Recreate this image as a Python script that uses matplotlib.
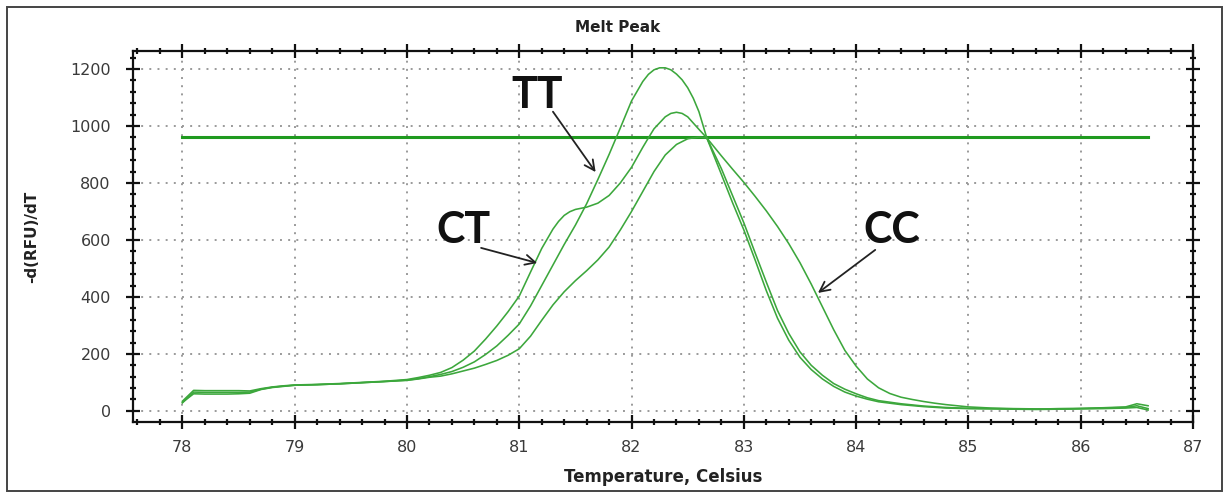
import matplotlib
matplotlib.use("Agg")
import matplotlib.pyplot as plt
from matplotlib.ticker import MultipleLocator
from matplotlib.patches import Rectangle

# Melt-peak derivative curves, -d(RFU)/dT versus temperature (deg C)
temp_tt = [78.0, 78.1, 78.2, 78.3, 78.4, 78.5, 78.6, 78.7, 78.8, 78.9, 79.0, 79.2, 79.4, 79.6,
           79.8, 80.0, 80.1, 80.2, 80.3, 80.4, 80.5, 80.6, 80.7, 80.8, 80.9, 81.0, 81.1, 81.2,
           81.3, 81.4, 81.5, 81.6, 81.7, 81.8, 81.9, 82.0, 82.1, 82.15, 82.2, 82.25, 82.3,
           82.35, 82.4, 82.45, 82.5, 82.55, 82.6, 82.67, 82.8, 82.9, 83.0, 83.1, 83.2, 83.3,
           83.4, 83.5, 83.6, 83.7, 83.8, 83.9, 84.0, 84.1, 84.2, 84.4, 84.6, 84.8, 85.0,
           85.2, 85.4, 85.6, 85.8, 86.0, 86.2, 86.4, 86.5, 86.6]
rfu_tt = [30, 60, 59, 59, 59, 60, 62, 75, 82, 86, 90, 92, 95, 99,
          103, 108, 113, 120, 128, 138, 153, 172, 198, 228, 265, 305, 368, 440,
          512, 584, 652, 727, 812, 900, 993, 1088, 1156, 1181, 1197, 1204, 1204,
          1197, 1182, 1162, 1134, 1097, 1050, 958, 830, 730, 635, 530, 422, 325,
          248, 188, 145, 112, 86, 66, 52, 41, 32, 22, 15, 10, 8,
          7, 6, 5, 6, 8, 10, 12, 18, 8]

temp_ct = [78.0, 78.1, 78.2, 78.3, 78.4, 78.5, 78.6, 78.7, 78.8, 78.9, 79.0, 79.2, 79.4, 79.6,
           79.8, 80.0, 80.1, 80.2, 80.3, 80.4, 80.5, 80.6, 80.7, 80.8, 80.9, 81.0, 81.1, 81.2,
           81.3, 81.35, 81.4, 81.45, 81.5, 81.55, 81.6, 81.7, 81.8, 81.9, 82.0, 82.1, 82.15,
           82.2, 82.3, 82.35, 82.4, 82.45, 82.5, 82.6, 82.67, 82.8, 82.9, 83.0, 83.1, 83.2,
           83.3, 83.4, 83.5, 83.6, 83.7, 83.8, 83.9, 84.0, 84.1, 84.2, 84.4, 84.6, 84.8,
           85.0, 85.2, 85.4, 85.6, 85.8, 86.0, 86.2, 86.4, 86.5, 86.6]
rfu_ct = [34, 72, 71, 71, 71, 71, 70, 78, 84, 88, 91, 93, 96, 100,
          104, 110, 117, 125, 135, 152, 178, 210, 252, 298, 348, 403, 487, 570,
          638, 665, 686, 699, 707, 711, 715, 729, 756, 800, 855, 925, 958,
          990, 1032, 1044, 1048, 1044, 1032, 988, 958, 850, 755, 660, 555, 452,
          352, 272, 207, 160, 125, 96, 76, 60, 46, 36, 25, 17, 12,
          9, 8, 7, 6, 8, 9, 11, 14, 25, 18]

temp_cc = [78.0, 78.1, 78.2, 78.3, 78.4, 78.5, 78.6, 78.7, 78.8, 78.9, 79.0, 79.2, 79.4, 79.6,
           79.8, 80.0, 80.1, 80.2, 80.3, 80.4, 80.5, 80.6, 80.7, 80.8, 80.9, 81.0, 81.1, 81.2,
           81.3, 81.4, 81.5, 81.6, 81.7, 81.8, 81.9, 82.0, 82.1, 82.2, 82.3, 82.4, 82.5,
           82.6, 82.67, 82.8, 82.9, 83.0, 83.1, 83.2, 83.3, 83.4, 83.5, 83.6, 83.7, 83.8,
           83.9, 84.0, 84.1, 84.2, 84.3, 84.4, 84.5, 84.6, 84.7, 84.8, 84.9, 85.0, 85.2,
           85.4, 85.6, 85.8, 86.0, 86.2, 86.4, 86.5, 86.6]
rfu_cc = [28, 66, 65, 65, 65, 65, 66, 76, 83, 87, 90, 92, 95, 99,
          103, 107, 112, 118, 122, 130, 140, 150, 163, 177, 195, 218, 262, 318,
          372, 418, 457, 492, 530, 575, 635, 700, 770, 840, 898, 935, 955,
          961, 958, 895, 848, 802, 753, 702, 647, 587, 520, 445, 365, 285,
          212, 157, 112, 81, 61, 48, 40, 33, 27, 22, 18, 14, 10,
          8, 7, 6, 7, 8, 10, 12, 3]

threshold = 960
threshold_span = [78.0, 86.6]

x_ticks = [78, 79, 80, 81, 82, 83, 84, 85, 86, 87]
y_ticks = [0, 200, 400, 600, 800, 1000, 1200]

# callouts: label, text position, arrow tail and tip
callout_labels = ["TT", "CT", "CC"]
callout_text_xy = [(81.16, 1110), (80.50, 635), (84.32, 635)]
callout_tail_xy = [(81.30, 1050), (80.66, 572), (84.17, 565)]
callout_tip_xy = [(81.68, 838), (81.16, 519), (83.66, 414)]

curve_color = "#3ca73c"
line_color = "#1f9a1f"

fig = plt.figure(figsize=(12.29, 4.93), dpi=100)
fig.patches.append(Rectangle((7 / 1229, 1 - 491 / 493), 1215 / 1229, 484 / 493,
                             transform=fig.transFigure, fill=False,
                             edgecolor="#444444", linewidth=1.4))
ax = fig.add_axes([133 / 1229, 1 - 422 / 493, 1060 / 1229, 371 / 493])

ax.plot(threshold_span, [threshold, threshold], color=line_color, linewidth=2.2, zorder=3)
for t, v in ((temp_tt, rfu_tt), (temp_ct, rfu_ct), (temp_cc, rfu_cc)):
    ax.plot(t, v, color=curve_color, linewidth=1.15, zorder=4)

ax.set_xlim(77.56, 87.0)
ax.set_ylim(-39, 1263)
ax.set_xticks(x_ticks)
ax.set_yticks(y_ticks)
ax.xaxis.set_minor_locator(MultipleLocator(0.2))
ax.yaxis.set_minor_locator(MultipleLocator(40))
ax.tick_params(which="major", direction="inout", length=10, width=1.6,
               color="#111111", labelsize=11.5, labelcolor="#3a3a3a",
               top=True, right=True)
ax.tick_params(which="minor", direction="inout", length=5, width=1.6,
               color="#111111", top=True, right=True)
ax.tick_params(axis="y", which="major", pad=11)
ax.tick_params(axis="x", which="major", pad=8)
for s in ax.spines.values():
    s.set_linewidth(1.6)
    s.set_color("#111111")

ax.grid(True, which="major", color="#9a9a9a", linewidth=1.4,
        linestyle=(0, (1, 3.2)))
ax.set_axisbelow(True)

fig.text(618 / 1229, 1 - 28 / 493, "Melt Peak", fontsize=11, fontweight="bold",
         color="#222222", ha="center", va="center")
ax.set_xlabel("Temperature, Celsius", fontsize=12, fontweight="bold",
              color="#222222", labelpad=9)
ax.set_ylabel("-d(RFU)/dT", fontsize=11, fontweight="bold", color="#222222",
              labelpad=22)

for lab, txy, tail, tip in zip(callout_labels, callout_text_xy, callout_tail_xy, callout_tip_xy):
    ax.text(txy[0], txy[1], lab, fontsize=31, fontfamily="Lato", fontweight="bold",
            color="#111111", ha="center", va="center", zorder=6)
    ax.annotate("", xy=tip, xytext=tail,
                arrowprops=dict(arrowstyle="->", color="#222222", lw=1.3,
                                mutation_scale=18, shrinkA=0, shrinkB=0),
                zorder=6)

fig.savefig("out.png", dpi=100)
